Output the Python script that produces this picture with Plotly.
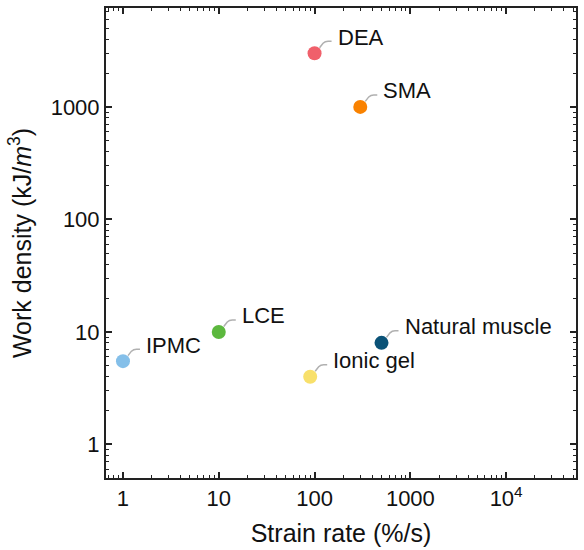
import math
import plotly.graph_objects as go

materials = ["DEA", "SMA", "LCE", "IPMC", "Ionic gel", "Natural muscle"]
strain_rate = [100, 300, 10, 1, 90, 500]          # %/s
work_density = [3000, 1000, 10, 5.5, 4, 8]         # kJ/m^3
colors = ["#f0606b", "#f98200", "#5cb83e", "#84bfe9", "#f8e06b", "#0a5277"]

x_tickvals = [1, 10, 100, 1000, 10000]
x_ticktext = ["1", "10", "100", "1000", "10<sup>4</sup>"]
y_tickvals = [1, 10, 100, 1000]
y_ticktext = ["1", "10", "100", "1000"]

FONT = "Liberation Sans, Arial, Helvetica, sans-serif"

fig = go.Figure()
for name, xv, yv, c in zip(materials, strain_rate, work_density, colors):
    fig.add_trace(go.Scatter(
        x=[xv], y=[yv], mode="markers", name=name, showlegend=False,
        marker=dict(size=14, color=c, line=dict(width=0)),
    ))
    # curved leader line (pixel offsets relative to the point)
    fig.add_shape(
        type="path", xref="x", yref="y",
        xsizemode="pixel", ysizemode="pixel",
        xanchor=xv, yanchor=yv,
        path="M 5,5.5 L 8.5,10 Q 10.5,12 13.5,12 L 17,12",
        line=dict(color="#b0b0b0", width=1.5),
        layer="below",
    )
    fig.add_annotation(
        x=math.log10(xv), y=math.log10(yv), xref="x", yref="y",
        text=name, showarrow=False, xanchor="left", yanchor="middle",
        xshift=21, yshift=16,
        font=dict(family=FONT, size=22, color="#111111"),
    )

axis_common = dict(
    type="log", showgrid=False, zeroline=False,
    showline=True, linecolor="#222222", linewidth=2, mirror="allticks",
    ticks="inside", ticklen=6, tickwidth=1.5, tickcolor="#222222",
    tickfont=dict(family=FONT, size=22, color="#111111"),
    minor=dict(ticks="inside", ticklen=3, tickwidth=1, tickcolor="#222222", dtick="D1", showgrid=False),
)

fig.update_layout(
    width=584, height=550,
    margin=dict(l=106, r=7, t=6, b=72),
    paper_bgcolor="white", plot_bgcolor="white",
    font=dict(family=FONT, color="#111111"),
    xaxis=dict(
        axis_common,
        range=[math.log10(0.665), math.log10(53600)],
        tickmode="array", tickvals=x_tickvals, ticktext=x_ticktext,
        title=dict(text="Strain rate (%/s)", font=dict(family=FONT, size=25, color="#111111"), standoff=14),
    ),
    yaxis=dict(
        axis_common,
        range=[-0.298, 3.879],
        tickmode="array", tickvals=y_tickvals, ticktext=y_ticktext,
        title=dict(text="Work density (kJ/<i>m</i><sup>3</sup>)", font=dict(family=FONT, size=25, color="#111111"), standoff=12),
    ),
)

fig.write_html("out.html")
